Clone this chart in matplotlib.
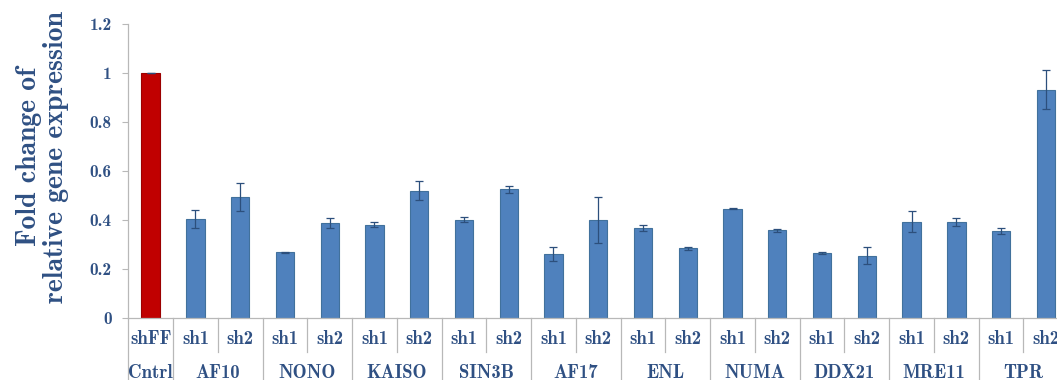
import numpy as np
import matplotlib
matplotlib.use("Agg")
import matplotlib.pyplot as plt
from matplotlib.transforms import blended_transform_factory

# Knockdown constructs and the gene each one targets
groups = ["Cntrl", "AF10", "NONO", "KAISO", "SIN3B", "AF17",
          "ENL", "NUMA", "DDX21", "MRE11", "TPR"]
hairpins = ["shFF"] + ["sh1", "sh2"] * 10

# Fold change of relative gene expression and its error
values = [1.000, 0.404, 0.495, 0.269, 0.388, 0.381, 0.520, 0.401, 0.525,
          0.262, 0.400, 0.369, 0.285, 0.445, 0.358, 0.266, 0.255, 0.393,
          0.391, 0.354, 0.932]
errors = [0.002, 0.035, 0.058, 0.002, 0.019, 0.010, 0.040, 0.010, 0.015,
          0.028, 0.094, 0.012, 0.006, 0.002, 0.006, 0.005, 0.035, 0.044,
          0.016, 0.012, 0.080]

TEXT = "#2f5083"
GRID = "#b8b8b8"
BLUE = "#4f81bd"
RED = "#c00000"
FONT = "cmb10"

W, H = 1057, 380
fig = plt.figure(figsize=(W / 100, H / 100), dpi=100)
ax = fig.add_axes([128.25 / W, 62 / H, 940 / W, 294 / H])

x = np.arange(len(values))
colors = [RED] + [BLUE] * (len(values) - 1)
edges = ["#9b0000"] + ["#41719c"] * (len(values) - 1)
ax.bar(x, values, width=0.41, color=colors, edgecolor=edges, linewidth=0.8,
       zorder=2)
ax.errorbar(x, values, yerr=errors, fmt="none", ecolor="#2c4f7c",
            elinewidth=0.9, capsize=3, capthick=0.9, zorder=3)

ax.set_xlim(-0.5, len(values) - 0.5)
ax.set_ylim(0, 1.2)
ax.set_yticks([0, 0.2, 0.4, 0.6, 0.8, 1.0, 1.2])
ax.set_yticklabels(["0", "0.2", "0.4", "0.6", "0.8", "1", "1.2"])
ax.set_xticks([])
for lab in ax.get_yticklabels():
    lab.set_fontfamily(FONT)
    lab.set_fontsize(12.5)
    lab.set_color(TEXT)
ax.tick_params(axis="y", length=4, width=0.8, color=GRID, pad=8)

for side in ("top", "right", "left"):
    ax.spines[side].set_visible(False)
ax.spines["bottom"].set_color(GRID)
ax.spines["bottom"].set_linewidth(0.9)

# y axis line drawn to the top of the scale
ax.plot([-0.5, -0.5], [0, 1.2], color=GRID, lw=0.9, clip_on=False, zorder=1)

# Two-level category axis beneath the bars
tr = blended_transform_factory(ax.transData, fig.transFigure)
y_axis = 62 / H
y_mid = 28 / H
row1 = 41 / H
row2 = 7 / H

full_bounds = [-0.5, 0.5] + [0.5 + 2 * k for k in range(1, 11)]
inner_bounds = [1.5 + 2 * k for k in range(10)]
for b in full_bounds:
    ax.plot([b, b], [y_axis, -0.05], color=GRID, lw=0.9, transform=tr,
            clip_on=False)
for b in inner_bounds:
    ax.plot([b, b], [y_axis, y_mid], color=GRID, lw=0.9, transform=tr,
            clip_on=False)

for xi, name in zip(x, hairpins):
    ax.text(xi, row1, name, transform=tr, ha="center", va="center",
            fontfamily=FONT, fontsize=13.5, color=TEXT)

group_centers = [0] + [1.5 + 2 * k for k in range(10)]
for xc, name in zip(group_centers, groups):
    ax.text(xc, row2, name, transform=tr, ha="center", va="center",
            fontfamily=FONT, fontsize=13.5, color=TEXT)

fig.text(43 / W, 1 - 157 / H, "Fold change of\nrelative gene expression",
         rotation=90, ha="center", va="center", multialignment="center",
         fontfamily=FONT, fontsize=20, color=TEXT, linespacing=1.05)

fig.savefig("out.png", dpi=100)
